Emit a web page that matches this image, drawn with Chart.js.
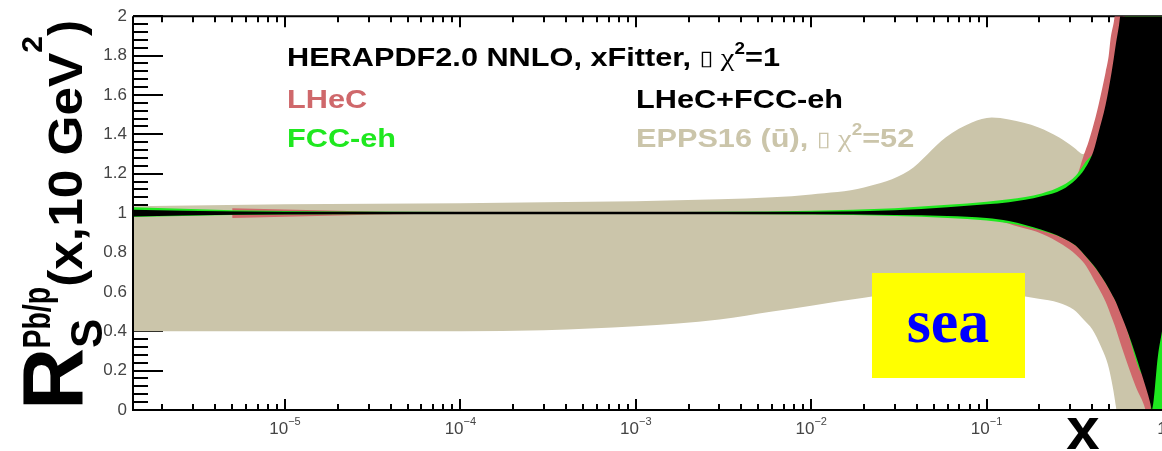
<!DOCTYPE html>
<html>
<head>
<meta charset="utf-8">
<script src="https://cdn.jsdelivr.net/npm/chart.js@4.4.1/dist/chart.umd.min.js"></script>
<style>
  html, body { margin: 0; padding: 0; background: #fff; }
  #wrap { position: relative; width: 1162px; height: 451px; }
</style>
</head>
<body>
<div id="wrap"><canvas id="rsea" width="1162" height="451"></canvas></div>
<script>
// x range of the frame
const X_MIN = 1.36e-6;
const X_MAX = 1.0;

// EPPS16 (ubar) uncertainty band, delta chi2 = 52
const eppsX = [1.36e-6, 1e-5, 1e-4, 3e-4, 1e-3, 3e-3, 6e-3, 1e-2, 2e-2, 3.6e-2, 5.86e-2, 8.24e-2,
               0.107, 0.134, 0.198, 0.258, 0.313, 0.357, 0.40, 0.45, 0.497, 0.55, 0.6, 1.0];
const eppsHigh = [1.035, 1.045, 1.05, 1.055, 1.06, 1.07, 1.08, 1.095, 1.13, 1.215, 1.385, 1.46,
                  1.485, 1.475, 1.435, 1.385, 1.335, 1.30, 1.38, 1.50, 1.60, 1.80, 2.0, 2.0];
const eppsLow = [0.40, 0.40, 0.40, 0.405, 0.425, 0.46, 0.50, 0.53, 0.57, 0.60, 0.615, 0.615,
                 0.605, 0.59, 0.565, 0.545, 0.51, 0.46, 0.41, 0.32, 0.215, 0.0, -0.3, -1.0];

// LHeC band
const lhecX = [5e-6, 2e-5, 5.5e-5, 1e-3, 1e-2, 0.1, 0.16, 0.206, 0.27, 0.322, 0.36, 0.382,
               0.419, 0.435, 0.477, 0.497, 0.509, 0.537, 0.589, 0.707, 0.805, 0.86, 0.9, 1.0];
const lhecHigh = [1.025, 1.012, 1.004, 1.004, 1.006, 1.045, 1.065, 1.085, 1.12, 1.175, 1.30, 1.365,
                  1.49, 1.55, 1.715, 1.80, 1.885, 2.0, 2.4, 3.0, 3.0, 3.0, 3.0, 3.0];
const lhecLow = [0.975, 0.988, 0.996, 0.996, 0.994, 0.97, 0.925, 0.895, 0.84, 0.79, 0.745, 0.71,
                 0.645, 0.62, 0.55, 0.51, 0.485, 0.43, 0.32, 0.12, 0.0, -0.12, -0.3, -0.5];

// FCC-eh band
const fccX = [1.36e-6, 5e-6, 2e-5, 1e-4, 1e-3, 1e-2, 0.03, 0.06, 0.1, 0.134, 0.206, 0.27,
              0.322, 0.36, 0.45, 0.6, 0.764, 0.86, 0.875, 0.9, 1.0];
const fccHigh = [1.03, 1.015, 1.008, 1.006, 1.006, 1.012, 1.025, 1.042, 1.058, 1.07, 1.10, 1.14,
                 1.19, 1.25, 1.38, 1.9, 3.0, 3.0, 3.0, 3.0, 3.0];
const fccLow = [0.98, 0.99, 0.994, 0.995, 0.995, 0.993, 0.985, 0.975, 0.962, 0.948, 0.91, 0.875,
                0.835, 0.79, 0.68, 0.47, 0.185, 0.03, -0.2, -0.4, -0.6];

// LHeC+FCC-eh band
const combX = [1.36e-6, 5e-6, 2e-5, 1e-4, 1e-3, 1e-2, 0.03, 0.06, 0.1, 0.134, 0.206, 0.27, 0.322,
               0.36, 0.407, 0.435, 0.477, 0.516, 0.545, 0.58, 0.645, 0.764, 0.86, 0.875, 0.95, 1.0];
const combHigh = [1.017, 1.008, 1.005, 1.004, 1.004, 1.006, 1.015, 1.03, 1.045, 1.055, 1.085, 1.12, 1.17,
                  1.22, 1.315, 1.41, 1.55, 1.715, 1.855, 2.02, 2.6, 3.0, 3.0, 3.0, 3.0, 3.0];
const combLow = [0.983, 0.992, 0.995, 0.996, 0.996, 0.995, 0.99, 0.985, 0.975, 0.96, 0.915, 0.875, 0.835,
                 0.79, 0.735, 0.70, 0.645, 0.59, 0.55, 0.49, 0.385, 0.185, 0.03, 0.0, 0.28, 0.4];

// central value
const centralX = [X_MIN, X_MAX];
const centralY = [1, 1];

// axis ticks
const xMajorTicks = [1e-5, 1e-4, 1e-3, 1e-2, 1e-1, 1];
const xTickExponents = ['\u22125', '\u22124', '\u22123', '\u22122', '\u22121', ''];
const xTickBases = ['10', '10', '10', '10', '10', '1'];
const yTickValues = [0, 0.2, 0.4, 0.6, 0.8, 1, 1.2, 1.4, 1.6, 1.8, 2];
const yTickLabels = ['0', '0.2', '0.4', '0.6', '0.8', '1', '1.2', '1.4', '1.6', '1.8', '2'];
const Y_MINOR_STEP = 0.04;

const TAN = '#cbc5aa';
const RED = '#cf686b';
const GREEN = '#1fe81f';
const SANS = '"Liberation Sans", Arial, sans-serif';
const SERIF = '"Liberation Serif", "Times New Roman", serif';

function pts(xs, ys) {
  return xs.map((x, i) => ({ x: x, y: ys[i] }));
}

function bandPair(name, xs, hi, lo, color, order) {
  const common = { pointRadius: 0, borderWidth: 0, borderColor: 'rgba(0,0,0,0)', order: order };
  return [
    Object.assign({ label: name + ' high', data: pts(xs, hi), fill: '+1', backgroundColor: color }, common),
    Object.assign({ label: name + ' low', data: pts(xs, lo), fill: false }, common)
  ];
}

// x minor ticks: 2..9 times each decade inside the frame
function xMinorTicks() {
  const out = [];
  for (let k = -6; k <= 0; k++) {
    for (let m = 2; m <= 9; m++) {
      const v = m * Math.pow(10, k);
      if (v > X_MIN && v < X_MAX) out.push(v);
    }
  }
  return out;
}

// draws text pieces one after another; each piece may be raised/lowered (dy)
// and stretched along the writing direction (sx)
function drawRuns(ctx, x, y, runs, sx) {
  ctx.save();
  ctx.translate(x, y);
  ctx.scale(sx || 1, 1);
  let cx = 0;
  runs.forEach(r => {
    ctx.font = r.font;
    ctx.fillStyle = r.color;
    const k = r.sx || 1;
    ctx.save();
    ctx.translate(cx, r.dy || 0);
    ctx.scale(k, 1);
    ctx.fillText(r.text, 0, 0);
    ctx.restore();
    cx += ctx.measureText(r.text).width * k + (r.advance || 0);
  });
  ctx.restore();
}

function legendLine(x, y, label, color, chi) {
  const runs = [{ text: label, font: 'bold 26px ' + SANS, color: color }];
  if (chi) {
    runs.push({ text: ' ', font: 'bold 26px ' + SANS, color: color });
    runs.push({ text: '\u25AF', font: '21px "DejaVu Sans"', color: color, dy: -1 });
    runs.push({ text: ' \u03C7', font: '26px ' + SERIF, color: color });
    runs.push({ text: '2', font: 'bold 16px ' + SANS, color: color, dy: -12 });
    runs.push({ text: '=' + chi, font: 'bold 26px ' + SANS, color: color });
  }
  return { x: x, y: y, runs: runs };
}

const legendLines = [
  legendLine(287, 66, 'HERAPDF2.0 NNLO, xFitter,', '#000', '1'),
  legendLine(287, 108, 'LHeC', RED),
  legendLine(287, 147, 'FCC-eh', GREEN),
  legendLine(636, 108, 'LHeC+FCC-eh', '#000'),
  legendLine(636, 147, 'EPPS16 (\u016B),', TAN, '52')
];

// R_S^{Pb/p}(x,10 GeV^2), written bottom to top
const yTitleRuns = [
  { text: 'R', font: 'bold 86px ' + SANS, color: '#000' },
  { text: 'S', font: 'bold 44px ' + SANS, color: '#000', dy: 20, advance: -30 },
  { text: 'Pb/p', font: 'bold 38px ' + SANS, color: '#000', dy: -32, sx: 0.75 },
  { text: '(x,10 GeV', font: 'bold 48px ' + SANS, color: '#000', sx: 1.07 },
  { text: '2', font: 'bold 30px ' + SANS, color: '#000', dy: -40 },
  { text: ')', font: 'bold 48px ' + SANS, color: '#000' }
];

const framePlugin = {
  id: 'rootFrame',
  beforeDatasetsDraw(chart) {
    const { ctx, chartArea: a, scales: { x, y } } = chart;
    ctx.save();
    ctx.strokeStyle = '#000';
    ctx.lineWidth = 2;
    // y ticks on the left, pointing inward
    for (let v = 0; v <= 2.0001; v += Y_MINOR_STEP) {
      const py = Math.round(y.getPixelForValue(v));
      const major = yTickValues.some(t => Math.abs(t - v) < 1e-6);
      ctx.beginPath();
      ctx.moveTo(a.left, py);
      ctx.lineTo(a.left + (major ? 30 : 15), py);
      ctx.stroke();
    }
    // x ticks at bottom and top
    const drawX = (v, len) => {
      const px = Math.round(x.getPixelForValue(v));
      ctx.beginPath();
      ctx.moveTo(px, a.bottom);
      ctx.lineTo(px, a.bottom - len);
      ctx.moveTo(px, a.top);
      ctx.lineTo(px, a.top + len);
      ctx.stroke();
    };
    xMinorTicks().forEach(v => drawX(v, 6));
    xMajorTicks.forEach(v => drawX(v, 11));
    // top edge of the frame
    ctx.beginPath();
    ctx.moveTo(a.left, a.top);
    ctx.lineTo(a.right, a.top);
    ctx.stroke();
    ctx.restore();
  },
  afterDatasetsDraw(chart) {
    const { ctx, chartArea: a } = chart;
    ctx.save();
    ctx.strokeStyle = '#000';
    ctx.lineWidth = 2;
    ctx.beginPath();
    ctx.moveTo(a.left, a.top);
    ctx.lineTo(a.left, a.bottom);
    ctx.lineTo(a.right, a.bottom);
    ctx.stroke();
    ctx.restore();
  },
  afterDraw(chart) {
    const { ctx, scales: { x } } = chart;
    ctx.save();
    ctx.textBaseline = 'alphabetic';

    // x tick labels with raised exponents
    xMajorTicks.forEach((v, i) => {
      const px = x.getPixelForValue(v);
      ctx.font = '17px ' + SANS;
      const wb = ctx.measureText(xTickBases[i]).width;
      ctx.font = '11px ' + SANS;
      const we = ctx.measureText(xTickExponents[i]).width;
      drawRuns(ctx, px - (wb + we) / 2, 434, [
        { text: xTickBases[i], font: '17px ' + SANS, color: '#444' },
        { text: xTickExponents[i], font: '11px ' + SANS, color: '#444', dy: -9 }
      ]);
    });

    // x axis title
    ctx.font = 'bold 60px ' + SANS;
    ctx.fillStyle = '#000';
    ctx.textAlign = 'center';
    ctx.fillText('x', 1083, 449);
    ctx.textAlign = 'left';

    // y axis title, rotated
    ctx.save();
    ctx.translate(82, 410);
    ctx.rotate(-Math.PI / 2);
    drawRuns(ctx, 0, 0, yTitleRuns);
    ctx.restore();

    // legend
    legendLines.forEach(l => drawRuns(ctx, l.x, l.y, l.runs, 1.18));

    // "sea" label box
    ctx.fillStyle = '#ffff00';
    ctx.fillRect(872, 273, 153, 105);
    ctx.fillStyle = '#0000ff';
    ctx.font = 'bold 62px ' + SERIF;
    ctx.textAlign = 'center';
    ctx.fillText('sea', 948, 342);
    ctx.restore();
  }
};

const datasets = [].concat(
  bandPair('EPPS16', eppsX, eppsHigh, eppsLow, TAN, 5),
  bandPair('LHeC', lhecX, lhecHigh, lhecLow, RED, 4),
  bandPair('FCC-eh', fccX, fccHigh, fccLow, GREEN, 3),
  bandPair('LHeC+FCC-eh', combX, combHigh, combLow, '#000', 2),
  [{
    label: 'central',
    data: pts(centralX, centralY),
    fill: false,
    borderColor: '#000',
    borderWidth: 2.5,
    pointRadius: 0,
    order: 1
  }]
);

new Chart(document.getElementById('rsea'), {
  type: 'line',
  data: { datasets: datasets },
  options: {
    responsive: false,
    animation: false,
    devicePixelRatio: 1,
    parsing: false,
    layout: { padding: { top: 10, right: 0, left: 0, bottom: 0 }, autoPadding: false },
    elements: { line: { cubicInterpolationMode: 'monotone' } },
    plugins: { legend: { display: false }, tooltip: { enabled: false } },
    scales: {
      x: {
        type: 'logarithmic',
        min: X_MIN,
        max: X_MAX,
        grid: { display: false, drawTicks: false },
        border: { display: false },
        ticks: { display: false },
        afterFit: s => { s.height = 41; }
      },
      y: {
        min: 0,
        max: 2,
        grid: { display: false, drawTicks: false },
        border: { display: false },
        afterBuildTicks: s => { s.ticks = yTickValues.map(v => ({ value: v })); },
        ticks: {
          padding: 6,
          color: '#444',
          font: { family: SANS, size: 17 },
          callback: v => {
            const i = yTickValues.findIndex(t => Math.abs(t - v) < 1e-6);
            return i >= 0 ? yTickLabels[i] : '';
          }
        },
        afterFit: s => { s.width = 133; }
      }
    }
  },
  plugins: [framePlugin]
});
</script>
</body>
</html>
